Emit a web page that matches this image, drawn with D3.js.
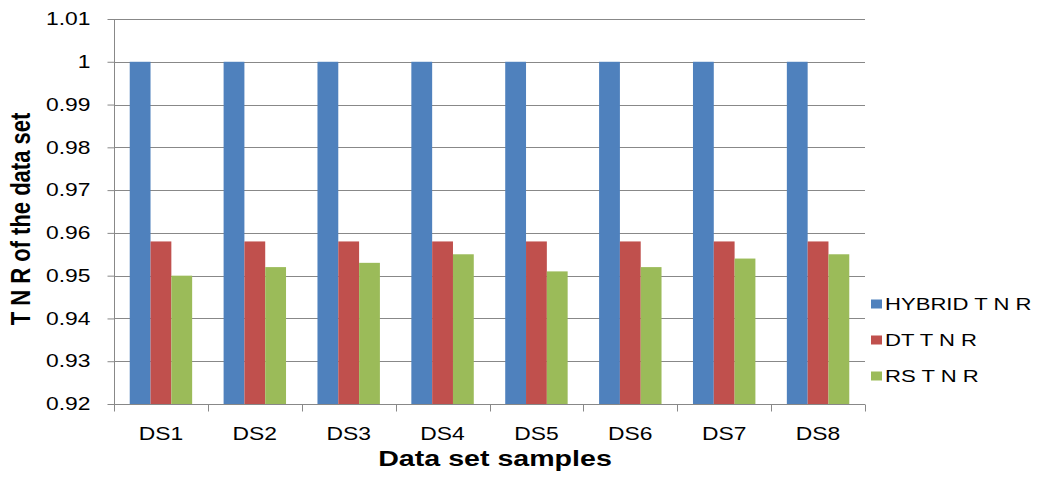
<!DOCTYPE html>
<html>
<head>
<meta charset="utf-8">
<script src="https://cdn.jsdelivr.net/npm/d3@7/dist/d3.min.js"></script>
<style>
  body { margin: 0; background: #fff; }
  svg text { font-family: "Liberation Sans", Arial, sans-serif; fill: #000; }
</style>
</head>
<body>
<div id="chart"></div>
<script>
// data
var categories = ["DS1", "DS2", "DS3", "DS4", "DS5", "DS6", "DS7", "DS8"];
var seriesNames = ["HYBRID T N R", "DT T N R", "RS T N R"];
var hybridTNR = [1, 1, 1, 1, 1, 1, 1, 1];
var dtTNR = [0.958, 0.958, 0.958, 0.958, 0.958, 0.958, 0.958, 0.958];
var rsTNR = [0.950, 0.952, 0.953, 0.955, 0.951, 0.952, 0.954, 0.955];
var yTicks = [0.92, 0.93, 0.94, 0.95, 0.96, 0.97, 0.98, 0.99, 1, 1.01];
var colors = ["#4f81bd", "#c0504d", "#9bbb59"];

var width = 1038, height = 479;
var margin = {left: 114, right: 173, top: 19, bottom: 75};
var sx = 1.27; // the original picture is stretched sideways, text too

var svg = d3.select("#chart").append("svg")
  .attr("width", width)
  .attr("height", height);

var x = d3.scaleBand()
  .domain(categories)
  .range([margin.left, width - margin.right])
  .paddingInner(0.335)
  .paddingOuter(0.1675);

var x1 = d3.scaleBand()
  .domain(seriesNames)
  .range([0, x.bandwidth()]);

var y = d3.scaleLinear()
  .domain([0.92, 1.01])
  .range([height - margin.bottom, margin.top]);

/* gridlines */
svg.append("g")
  .selectAll("line")
  .data(yTicks)
  .enter().append("line")
  .attr("x1", margin.left)
  .attr("x2", width - margin.right)
  .attr("y1", function(d) { return Math.round(y(d)) + 0.5; })
  .attr("y2", function(d) { return Math.round(y(d)) + 0.5; })
  .attr("stroke", "#888")
  .attr("stroke-width", 1);

/* bars */
var rows = categories.map(function(c, i) {
  return {cat: c, vals: [hybridTNR[i], dtTNR[i], rsTNR[i]]};
});

svg.append("g")
  .selectAll("g")
  .data(rows)
  .enter().append("g")
  .attr("transform", function(d) { return "translate(" + x(d.cat) + ",0)"; })
  .selectAll("rect")
  .data(function(d) { return d.vals.map(function(v, j) { return {name: seriesNames[j], v: v, j: j}; }); })
  .enter().append("rect")
  .attr("x", function(d) { return x1(d.name); })
  .attr("width", x1.bandwidth())
  .attr("y", function(d) { return y(d.v); })
  .attr("height", function(d) { return y(0.92) - y(d.v); })
  .attr("fill", function(d) { return colors[d.j]; });

/* y axis */
var yAxis = svg.append("g")
  .attr("transform", "translate(" + (margin.left + 0.5) + ",0)")
  .call(d3.axisLeft(y).tickValues(yTicks).tickSize(7).tickPadding(17)
    .tickFormat(function(d) { return d === 1 ? "1" : d3.format(".2f")(d); }));
yAxis.select(".domain").attr("stroke", "#888").attr("d", "M0," + margin.top + "V" + (height - margin.bottom));
yAxis.selectAll(".tick line").attr("stroke", "#888");
yAxis.selectAll(".tick text")
  .style("font-size", "18px")
  .attr("fill", "#000")
  .attr("x", -24 / sx)
  .attr("transform", "scale(" + sx + ",1)");

/* x axis */
var xAxis = svg.append("g")
  .attr("transform", "translate(0," + (Math.round(y(0.92)) + 0.5) + ")");
xAxis.append("line")
  .attr("x1", margin.left).attr("x2", width - margin.right)
  .attr("stroke", "#888");
var bounds = x.domain().map(function(c) { return x(c) - x.step() * x.paddingInner() / 2; });
bounds.push(width - margin.right);
xAxis.selectAll("line.tk")
  .data(bounds)
  .enter().append("line")
  .attr("class", "tk")
  .attr("x1", function(d) { return Math.round(d) + 0.5; })
  .attr("x2", function(d) { return Math.round(d) + 0.5; })
  .attr("y1", 0).attr("y2", 7)
  .attr("stroke", "#888");
xAxis.selectAll("text")
  .data(categories)
  .enter().append("text")
  .attr("transform", function(d) {
    return "translate(" + (x(d) + x.bandwidth() / 2) + ",35) scale(" + sx + ",1)";
  })
  .attr("text-anchor", "middle")
  .style("font-size", "18px")
  .text(function(d) { return d; });

/* axis titles */
svg.append("text")
  .attr("transform", "translate(495,466) scale(1.3,1)")
  .attr("text-anchor", "middle")
  .style("font-size", "22px")
  .style("font-weight", "bold")
  .text("Data set samples");

svg.append("text")
  .attr("transform", "translate(30,219) scale(" + sx + ",1) rotate(-90)")
  .attr("text-anchor", "middle")
  .style("font-size", "22px")
  .style("font-weight", "bold")
  .text("T N R of the data set");

/* legend */
var legend = svg.append("g")
  .selectAll("g")
  .data(seriesNames)
  .enter().append("g")
  .attr("transform", function(d, i) { return "translate(871," + (304 + i * 36) + ")"; });
legend.append("rect")
  .attr("x", 0).attr("y", -4.5)
  .attr("width", 11).attr("height", 9)
  .attr("fill", function(d, i) { return colors[i]; });
legend.append("text")
  .attr("transform", "translate(14,6) scale(1.3,1)")
  .style("font-size", "17px")
  .text(function(d) { return d; });
</script>
</body>
</html>
